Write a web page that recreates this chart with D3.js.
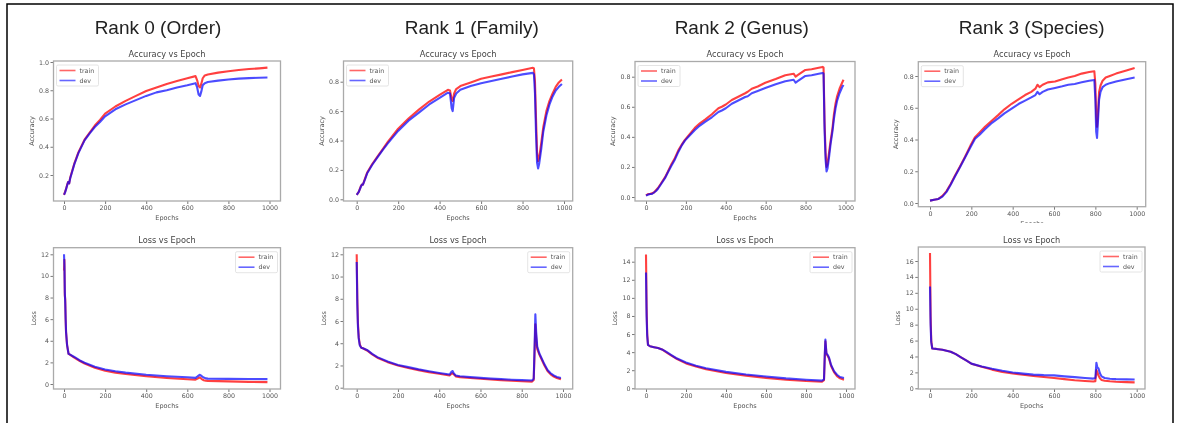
<!DOCTYPE html>
<html>
<head>
<meta charset="utf-8">
<script src="https://cdn.jsdelivr.net/npm/d3@7"></script>
<style>
  body { margin: 0; background: #fff; }
  svg { display: block; filter: blur(0.4px); }
  .tick text { font-family: "DejaVu Sans", sans-serif; fill: #555; }
  .tick line { stroke: #777; }
</style>
</head>
<body>
<div id="chart"></div>
<script>
// ---- titles / ticks ----
var rankTitles = ["Rank 0 (Order)", "Rank 1 (Family)", "Rank 2 (Genus)", "Rank 3 (Species)"];
var epochTicks = [0, 200, 400, 600, 800, 1000];
var accTicksOrder = [0.2, 0.4, 0.6, 0.8, 1.0];
var accTicks = [0.0, 0.2, 0.4, 0.6, 0.8];
var lossTicks12 = [0, 2, 4, 6, 8, 10, 12];
var lossTicks14 = [0, 2, 4, 6, 8, 10, 12, 14];
var lossTicks16 = [0, 2, 4, 6, 8, 10, 12, 14, 16];

// ---- Rank 0 (Order) ----
var epAcc0 = [0,5,10,15,20,25,30,40,50,60,70,80,100,125,150,175,200,250,300,350,400,450,500,550,600,640,648,655,662,668,675,685,700,750,800,850,900,950,990];
var trainAcc0 = [0.06,0.08,0.10,0.13,0.15,0.14,0.18,0.23,0.28,0.32,0.36,0.39,0.45,0.50,0.55,0.59,0.635,0.685,0.725,0.76,0.795,0.82,0.845,0.865,0.885,0.90,0.87,0.83,0.82,0.845,0.885,0.905,0.912,0.925,0.935,0.943,0.95,0.955,0.96];
var devAcc0 = [0.06,0.075,0.10,0.125,0.15,0.14,0.175,0.225,0.275,0.315,0.355,0.385,0.445,0.495,0.54,0.575,0.615,0.665,0.70,0.73,0.76,0.785,0.80,0.82,0.835,0.85,0.82,0.77,0.76,0.79,0.835,0.85,0.858,0.868,0.876,0.882,0.886,0.889,0.89];
var epLoss0 = [0,2,4,6,8,10,15,22,30,50,75,100,150,200,250,300,400,500,600,640,650,660,665,670,680,690,700,800,900,990];
var trainLoss0 = [10.5,11.5,8.2,7.8,6,4.8,3.6,2.8,2.7,2.45,2.15,1.9,1.5,1.22,1.05,0.92,0.72,0.56,0.44,0.4,0.5,0.6,0.55,0.45,0.35,0.3,0.29,0.24,0.2,0.17];
var devLoss0 = [12,11,8.5,7.5,6,4.8,3.6,2.8,2.72,2.5,2.2,1.97,1.6,1.35,1.18,1.05,0.86,0.72,0.62,0.57,0.7,0.85,0.82,0.72,0.6,0.52,0.5,0.47,0.46,0.45];

// ---- Rank 1 (Family) ----
var epAcc1 = [0,10,20,25,30,40,50,75,100,125,150,200,250,300,350,400,440,450,458,463,470,480,500,550,600,650,700,750,800,850,855,860,865,870,875,880,890,900,915,930,945,960,975,990];
var trainAcc1 = [0.03,0.05,0.09,0.10,0.10,0.14,0.18,0.24,0.29,0.34,0.39,0.48,0.55,0.61,0.665,0.71,0.745,0.74,0.68,0.67,0.72,0.75,0.77,0.795,0.82,0.835,0.85,0.865,0.88,0.895,0.89,0.80,0.55,0.32,0.26,0.28,0.38,0.49,0.60,0.67,0.72,0.765,0.795,0.815];
var devAcc1 = [0.03,0.05,0.085,0.10,0.10,0.135,0.175,0.235,0.285,0.335,0.38,0.465,0.535,0.59,0.645,0.69,0.725,0.72,0.62,0.60,0.69,0.72,0.745,0.77,0.79,0.805,0.82,0.835,0.85,0.86,0.85,0.72,0.45,0.25,0.21,0.24,0.34,0.46,0.57,0.645,0.70,0.74,0.765,0.785];
var epLoss1 = [0,3,6,10,15,22,30,50,75,100,150,200,250,300,350,400,450,460,465,470,480,500,550,600,650,700,750,800,850,858,862,866,870,875,885,895,910,925,940,955,970,990];
var trainLoss1 = [12,8,5.8,4.5,3.9,3.6,3.55,3.35,3.0,2.7,2.3,2.0,1.78,1.58,1.4,1.25,1.1,1.25,1.3,1.2,1.02,0.95,0.87,0.8,0.74,0.68,0.63,0.58,0.55,0.7,3.0,5.7,4.5,3.5,3.0,2.6,2.0,1.5,1.2,1.0,0.88,0.75];
var devLoss1 = [11.3,7.5,5.5,4.4,3.8,3.6,3.55,3.4,3.05,2.75,2.35,2.05,1.85,1.65,1.48,1.32,1.18,1.45,1.5,1.3,1.1,1.03,0.95,0.88,0.82,0.77,0.72,0.68,0.65,0.8,3.5,6.6,5.0,3.7,3.1,2.7,2.1,1.6,1.3,1.1,0.97,0.88];

// ---- Rank 2 (Genus) ----
var epAcc2 = [0,10,20,30,40,50,60,75,95,110,128,145,162,180,195,220,245,270,296,330,363,380,400,430,460,497,510,530,560,598,650,698,740,750,760,799,830,866,885,890,895,900,905,910,918,925,935,942,950,958,970,983,990];
var trainAcc2 = [0.01,0.02,0.02,0.025,0.03,0.045,0.06,0.09,0.13,0.17,0.22,0.26,0.31,0.35,0.38,0.42,0.46,0.49,0.515,0.55,0.59,0.6,0.615,0.645,0.665,0.69,0.70,0.72,0.735,0.76,0.785,0.81,0.82,0.80,0.81,0.845,0.85,0.86,0.865,0.86,0.50,0.30,0.20,0.22,0.30,0.37,0.46,0.55,0.62,0.67,0.72,0.76,0.78];
var devAcc2 = [0.01,0.015,0.02,0.02,0.03,0.04,0.055,0.085,0.125,0.165,0.21,0.25,0.30,0.345,0.375,0.41,0.445,0.475,0.50,0.53,0.565,0.575,0.59,0.62,0.64,0.665,0.67,0.69,0.705,0.725,0.75,0.77,0.78,0.76,0.77,0.805,0.81,0.82,0.825,0.82,0.45,0.25,0.17,0.19,0.27,0.35,0.44,0.52,0.59,0.64,0.69,0.73,0.745];
var epLoss2 = [0,3,6,10,20,40,60,80,100,125,150,200,250,300,400,500,600,700,800,880,890,894,897,902,908,915,925,940,955,970,990];
var trainLoss2 = [14.8,9,6,4.8,4.65,4.55,4.45,4.3,4.0,3.65,3.3,2.75,2.4,2.1,1.7,1.4,1.15,0.95,0.8,0.72,0.9,3.5,5.2,3.8,3.6,3.3,2.5,1.8,1.35,1.1,0.95];
var devLoss2 = [12.8,8,5.8,4.8,4.65,4.55,4.45,4.3,4.05,3.7,3.35,2.85,2.5,2.22,1.82,1.52,1.3,1.1,0.95,0.85,1.0,3.8,5.4,3.9,3.7,3.4,2.6,1.9,1.5,1.25,1.15];

// ---- Rank 3 (Species) ----
var epAcc3 = [0,20,40,60,80,100,120,145,169,195,218,240,266,300,331,360,395,430,460,490,510,520,530,545,570,605,640,669,700,734,770,795,800,804,808,812,818,825,835,850,870,900,950,990];
var trainAcc3 = [0.015,0.02,0.025,0.045,0.075,0.12,0.17,0.23,0.29,0.36,0.415,0.445,0.48,0.52,0.555,0.59,0.625,0.655,0.68,0.70,0.72,0.745,0.73,0.745,0.76,0.765,0.78,0.79,0.80,0.815,0.825,0.83,0.75,0.55,0.48,0.55,0.70,0.74,0.77,0.79,0.80,0.815,0.835,0.85];
var devAcc3 = [0.015,0.02,0.025,0.04,0.07,0.115,0.165,0.225,0.285,0.35,0.405,0.43,0.465,0.505,0.535,0.565,0.595,0.625,0.645,0.665,0.68,0.70,0.685,0.70,0.715,0.725,0.735,0.745,0.75,0.76,0.77,0.775,0.65,0.45,0.41,0.50,0.65,0.70,0.73,0.745,0.755,0.765,0.78,0.79];
var epLoss3 = [0,3,6,11,30,60,100,125,150,175,200,250,300,350,400,450,500,550,600,650,700,750,790,800,805,810,815,822,830,845,870,900,950,990];
var trainLoss3 = [17,9,6,5.0,4.95,4.85,4.6,4.3,3.9,3.5,3.1,2.7,2.35,2.05,1.85,1.7,1.55,1.42,1.3,1.15,1.02,0.92,0.85,0.9,2.3,2.0,1.6,1.25,1.05,0.95,0.88,0.83,0.78,0.75];
var devLoss3 = [12.8,8,5.8,5.0,4.95,4.85,4.6,4.3,3.9,3.5,3.1,2.75,2.45,2.2,1.98,1.85,1.72,1.65,1.62,1.5,1.4,1.3,1.22,1.3,3.2,2.6,2.5,1.9,1.5,1.3,1.2,1.15,1.12,1.1];

// ---- svg ----
var svgWidth = 1179, svgHeight = 423;
var svg = d3.select("#chart").append("svg")
  .attr("width", svgWidth)
  .attr("height", svgHeight);

svg.append("rect").attr("width", svgWidth).attr("height", svgHeight).attr("fill", "#fff");

// panel layout: box in px, and two pixel anchors for each scale
var panels = [
  {kind: "acc", ep: epAcc0, train: trainAcc0, dev: devAcc0, yTicks: accTicksOrder, fmt: ".1f",
   l: 53.5, r: 280.5, t: 61, b: 201, x0: 64, x1: 269.5, yv: [0.2, 1.0], yp: [175, 62]},
  {kind: "acc", ep: epAcc1, train: trainAcc1, dev: devAcc1, yTicks: accTicks, fmt: ".1f",
   l: 343.5, r: 572.7, t: 61, b: 201, x0: 356.7, x1: 564, yv: [0, 0.8], yp: [199.3, 81.7]},
  {kind: "acc", ep: epAcc2, train: trainAcc2, dev: devAcc2, yTicks: accTicks, fmt: ".1f",
   l: 635, r: 855, t: 61.5, b: 201, x0: 646, x1: 845.5, yv: [0, 0.8], yp: [197, 76.7]},
  {kind: "acc", ep: epAcc3, train: trainAcc3, dev: devAcc3, yTicks: accTicks, fmt: ".1f",
   l: 918.3, r: 1145.7, t: 61.7, b: 206.7, x0: 930, x1: 1136.7, yv: [0, 0.8], yp: [203, 76]},
  {kind: "loss", ep: epLoss0, train: trainLoss0, dev: devLoss0, yTicks: lossTicks12, fmt: "d",
   l: 53.5, r: 280.5, t: 247.7, b: 389, x0: 64, x1: 269.5, yv: [0, 12], yp: [384, 254.3]},
  {kind: "loss", ep: epLoss1, train: trainLoss1, dev: devLoss1, yTicks: lossTicks12, fmt: "d",
   l: 343.5, r: 572.7, t: 247.7, b: 389, x0: 356.7, x1: 563, yv: [0, 12], yp: [387.7, 254.3]},
  {kind: "loss", ep: epLoss2, train: trainLoss2, dev: devLoss2, yTicks: lossTicks14, fmt: "d",
   l: 635, r: 855, t: 247.7, b: 389, x0: 646, x1: 846, yv: [0, 14], yp: [388.3, 261.7]},
  {kind: "loss", ep: epLoss3, train: trainLoss3, dev: devLoss3, yTicks: lossTicks16, fmt: "d",
   l: 918.3, r: 1145, t: 247, b: 389, x0: 930, x1: 1136.7, yv: [0, 16], yp: [388.3, 261], cover: true}
];

panels.forEach(function(p) {
  var g = svg.append("g");

  // loss species panel was pasted over the acc "Epochs" label
  if (p.cover) {
    g.append("rect").attr("x", p.l - 45).attr("y", 223).attr("width", p.r - p.l + 70).attr("height", 30).attr("fill", "#fff");
  }

  var xScale = d3.scaleLinear().domain([0, 1000]).range([p.x0, p.x1]);
  var yScale = d3.scaleLinear().domain(p.yv).range(p.yp);
  var cx = (p.l + p.r) / 2, cy = (p.t + p.b) / 2;

  // subplot title
  g.append("text")
    .attr("x", cx).attr("y", p.t - 4.5)
    .attr("text-anchor", "middle")
    .attr("font-family", "DejaVu Sans, sans-serif")
    .attr("font-size", 8.2)
    .attr("fill", "#444")
    .text(p.kind === "acc" ? "Accuracy vs Epoch" : "Loss vs Epoch");

  // axes
  var bottomAxis = d3.axisBottom(xScale).tickValues(epochTicks).tickSize(3).tickPadding(1.5).tickFormat(d3.format("d"));
  var leftAxis = d3.axisLeft(yScale).tickValues(p.yTicks).tickSize(3).tickPadding(1.5).tickFormat(d3.format(p.fmt));

  var xa = g.append("g").attr("transform", `translate(0,${p.b})`).call(bottomAxis);
  var ya = g.append("g").attr("transform", `translate(${p.l},0)`).call(leftAxis);
  [xa, ya].forEach(function(a) {
    a.select(".domain").remove();
    a.selectAll("text").attr("font-size", 6.3).attr("font-family", "DejaVu Sans, sans-serif");
  });

  // axis labels
  g.append("text")
    .attr("x", cx).attr("y", p.b + 19)
    .attr("text-anchor", "middle")
    .attr("font-family", "DejaVu Sans, sans-serif")
    .attr("font-size", 6.5).attr("fill", "#555")
    .text("Epochs");
  g.append("text")
    .attr("transform", `translate(${p.l - (p.kind === "acc" ? 20 : 18)},${cy}) rotate(-90)`)
    .attr("text-anchor", "middle")
    .attr("font-family", "DejaVu Sans, sans-serif")
    .attr("font-size", 6.5).attr("fill", "#555")
    .text(p.kind === "acc" ? "Accuracy" : "Loss");

  // lines
  var line = function(vals) {
    return d3.line().x(function(d, i) { return xScale(p.ep[i]); }).y(function(d) { return yScale(d); })(vals);
  };
  g.append("path").attr("d", line(p.train))
    .attr("fill", "none").attr("stroke", "#ff0000").attr("stroke-opacity", 0.75)
    .attr("stroke-width", 2.1).attr("stroke-linejoin", "round");
  g.append("path").attr("d", line(p.dev))
    .attr("fill", "none").attr("stroke", "#0000ff").attr("stroke-opacity", 0.7)
    .attr("stroke-width", 2.1).attr("stroke-linejoin", "round");

  // box
  g.append("rect")
    .attr("x", p.l).attr("y", p.t)
    .attr("width", p.r - p.l).attr("height", p.b - p.t)
    .attr("fill", "none").attr("stroke", "#aaa").attr("stroke-width", 1.3);

  // legend
  var lx = p.kind === "acc" ? p.l + 3 : p.r - 45;
  var ly = p.t + 4;
  var leg = g.append("g").attr("transform", `translate(${lx},${ly})`);
  leg.append("rect").attr("width", 42).attr("height", 21).attr("rx", 1.5)
    .attr("fill", "#fff").attr("stroke", "#ddd").attr("stroke-width", 0.8);
  [["train", "#ff0000"], ["dev", "#0000ff"]].forEach(function(e, i) {
    leg.append("line").attr("x1", 3).attr("x2", 19).attr("y1", 5.5 + i * 10).attr("y2", 5.5 + i * 10)
      .attr("stroke", e[1]).attr("stroke-opacity", 0.6).attr("stroke-width", 1.6);
    leg.append("text").attr("x", 23).attr("y", 5.5 + i * 10).attr("dy", "0.35em")
      .attr("font-family", "DejaVu Sans, sans-serif").attr("font-size", 6.3).attr("fill", "#555")
      .text(e[0]);
  });
});

// rank titles
var titleX = [158, 471.7, 741.7, 1031.7];
svg.selectAll(".rank").data(rankTitles).enter().append("text")
  .attr("class", "rank")
  .attr("x", function(d, i) { return titleX[i]; })
  .attr("y", 34)
  .attr("text-anchor", "middle")
  .attr("font-family", "Liberation Sans, Arial, sans-serif")
  .attr("font-size", 19)
  .attr("fill", "#222")
  .text(function(d) { return d; });

// outer frame
svg.append("path")
  .attr("d", "M7,430 V4 H1173 V430")
  .attr("fill", "none").attr("stroke", "#000").attr("stroke-width", 1.5);
</script>
</body>
</html>
